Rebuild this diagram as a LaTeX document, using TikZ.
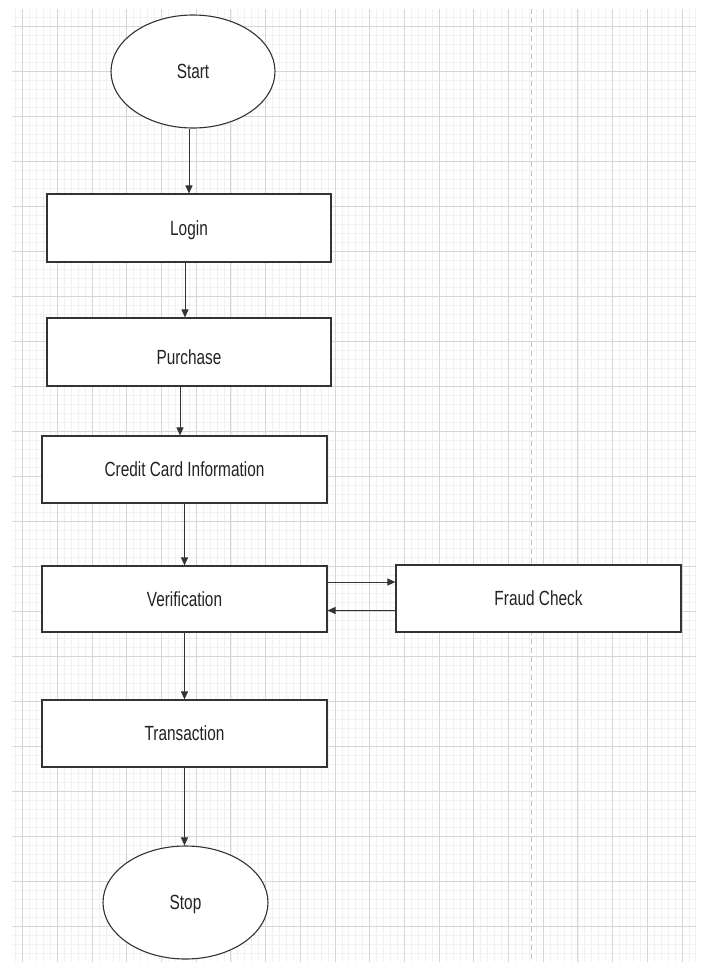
\documentclass[tikz,border=0pt]{standalone}
\usepackage{fontspec}
\setmainfont{Liberation Sans}[FakeStretch=0.75]
\usetikzlibrary{arrows.meta,shapes.geometric}
\definecolor{minorc}{HTML}{F1F1F1}
\definecolor{majorc}{HTML}{D6D6D6}
\definecolor{linec}{HTML}{333333}
\definecolor{textc}{HTML}{222222}
\tikzset{
  minorline/.style={draw=minorc,line width=0.6pt},
  majorline/.style={draw=majorc,line width=0.8pt},
  procbox/.style={draw=linec,line width=1.2pt,fill=white,rectangle,inner sep=0pt,text=textc,text height=15pt,text depth=1pt,font=\fontsize{20.5}{24}\selectfont},
  termnode/.style={draw=linec,line width=1.1pt,fill=white,ellipse,inner sep=0pt,text=textc,text height=15pt,text depth=1pt,font=\fontsize{20.5}{24}\selectfont},
  arr/.style={draw=linec,line width=1pt,-{Triangle[length=8pt,width=7pt]}},
}
\begin{document}
\begin{tikzpicture}[x=1pt,y=-1pt]
\fill[white] (0,0) rectangle (701,962);
\useasboundingbox (0,0) rectangle (701,962);
\begin{scope}
\clip (12,9) rectangle (696,961);
\foreach \i in {-3,...,100} \draw[minorline] ({22.6+\i*6.94},0) -- ++(0,970);
\foreach \j in {-3,...,110} \draw[minorline] (0,{26+\j*9}) -- ++(701,0);
\foreach \i in {-1,...,20} \draw[majorline] ({22.6+\i*34.7},0) -- ++(0,970);
\foreach \j in {-1,...,22} \draw[majorline] (0,{26+\j*45}) -- ++(701,0);
\end{scope}
\coordinate (dtop) at (531,9);
\coordinate (dbot) at (531,961);
\draw[draw=majorc!90!black,line width=1pt,dash pattern=on 5pt off 4pt] (dtop) -- (dbot);

\node[termnode,minimum width=164pt,minimum height=113pt] (start) at (193,71.5) {Start};
\node[procbox,minimum width=284pt,minimum height=68pt] (login) at (189,228) {Login};
\node[procbox,minimum width=284pt,minimum height=68pt] (purchase) at (189,352) {\raisebox{-5pt}[0pt][0pt]{Purchase}};
\node[procbox,minimum width=285pt,minimum height=67pt] (credit) at (184.5,469.5) {Credit Card Information};
\node[procbox,minimum width=285pt,minimum height=66pt] (verif) at (184.5,599) {Verification};
\node[procbox,minimum width=285pt,minimum height=67pt] (fraud) at (538.5,598.5) {Fraud Check};
\node[procbox,minimum width=285pt,minimum height=67pt] (trans) at (184.5,733.5) {Transaction};
\node[termnode,minimum width=165pt,minimum height=113pt] (stop) at (185.5,902.5) {Stop};

\draw[arr] ([xshift=-4pt]start.south) -- ([xshift=-4pt]start.south |- login.north);
\draw[arr] ([xshift=-4pt]login.south) -- ([xshift=-4pt]login.south |- purchase.north);
\draw[arr] ([xshift=-9pt]purchase.south) -- ([xshift=-9pt]purchase.south |- credit.north);
\draw[arr] (credit.south) -- (verif.north);
\draw[arr] (verif.south) -- (trans.north);
\draw[arr] (trans.south) -- (trans.south |- stop.north);
\draw[arr] ([yshift=17pt]verif.east) -- ([yshift=17pt]verif.east -| fraud.west);
\draw[arr] ([yshift=-12pt]fraud.west) -- ([yshift=-12pt]fraud.west -| verif.east);
\end{tikzpicture}
\end{document}
